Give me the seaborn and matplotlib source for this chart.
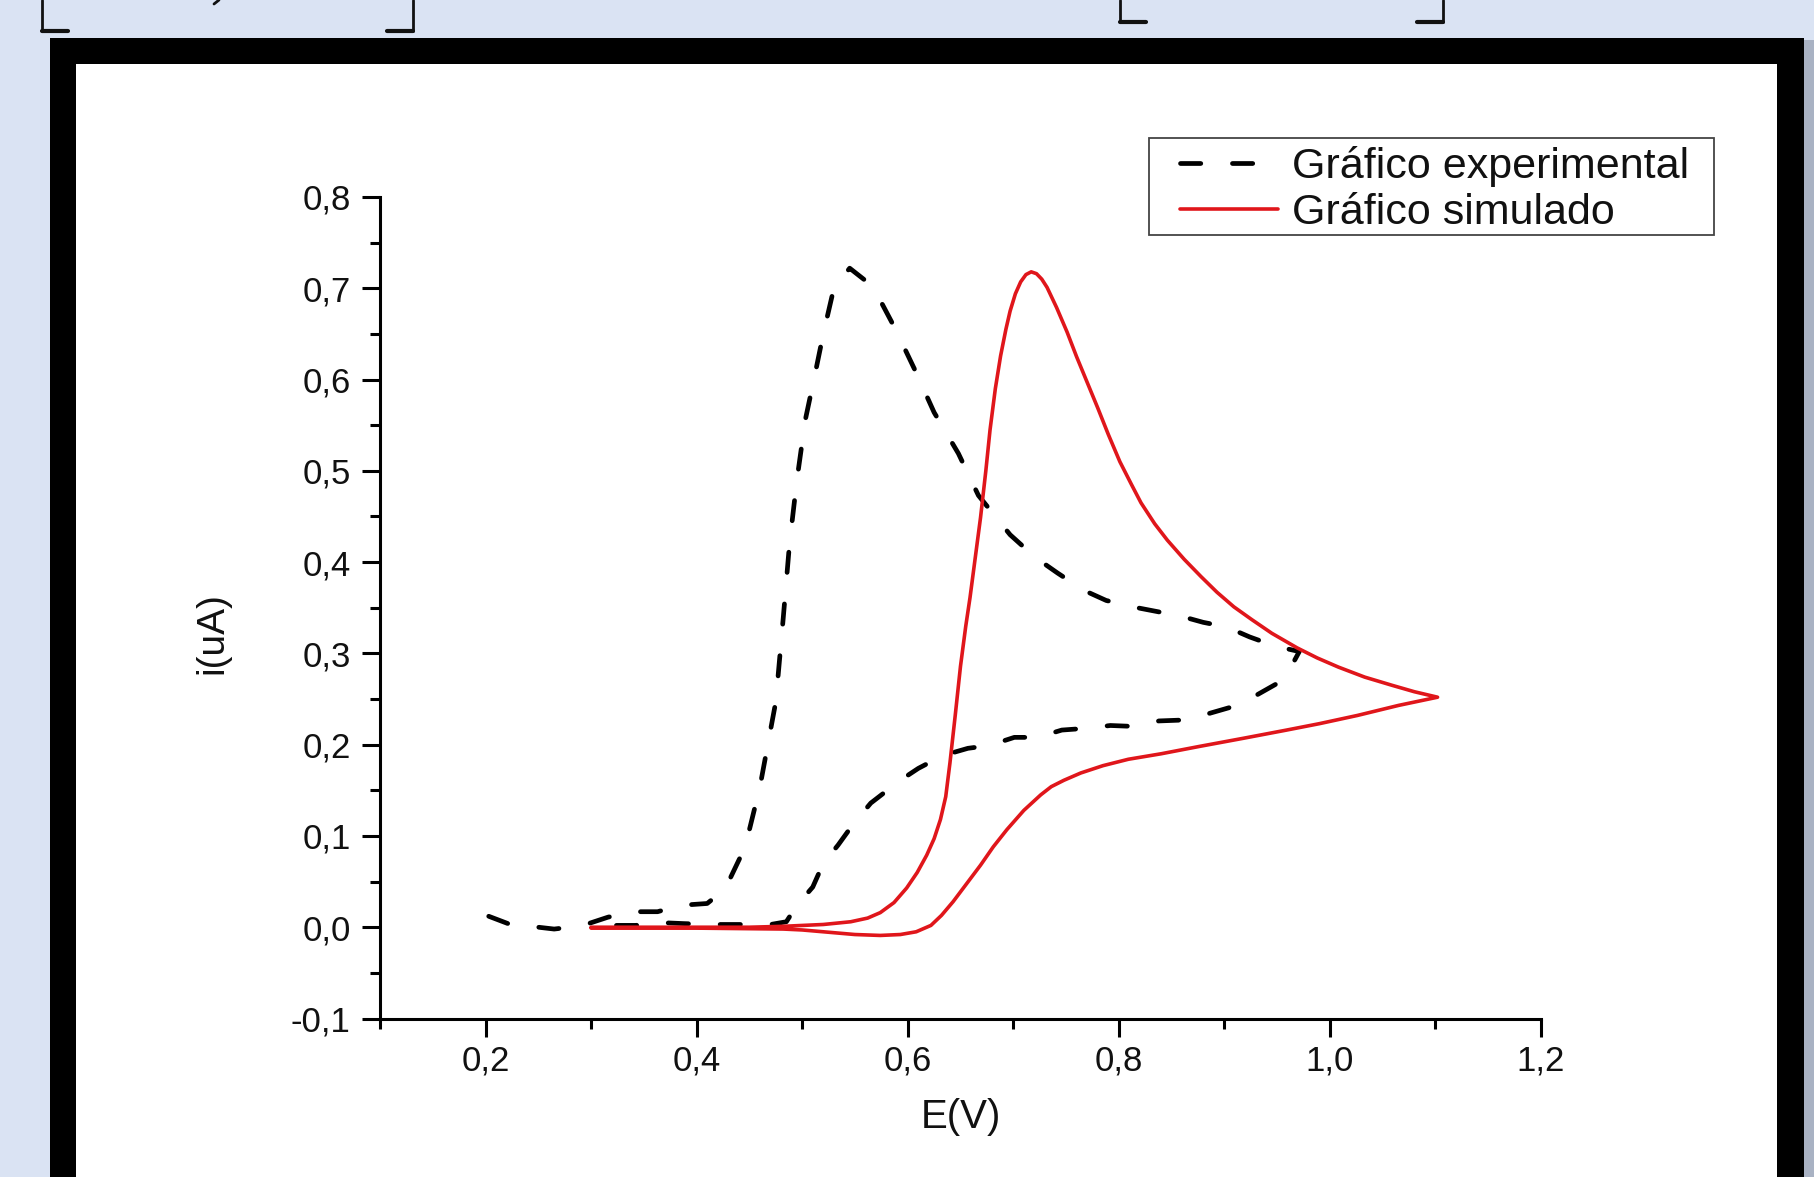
import matplotlib
matplotlib.use('Agg')
import matplotlib.pyplot as plt
import numpy as np
import pandas as pd
import seaborn as sns
from matplotlib.patches import Rectangle
from matplotlib.lines import Line2D
from matplotlib.ticker import MultipleLocator, FuncFormatter

sns.set_style('ticks')
plt.rcParams['font.family'] = ['Liberation Sans', 'DejaVu Sans']
plt.rcParams['axes.unicode_minus'] = False

# Gráfico experimental (E em V, i em uA)
exp_E = [0.203, 0.228, 0.250, 0.265, 0.280, 0.295, 0.316, 0.339, 0.363, 0.385,
         0.410, 0.427, 0.446, 0.460, 0.475, 0.482, 0.488, 0.495, 0.503, 0.512,
         0.520, 0.530, 0.545, 0.567, 0.588, 0.607, 0.625, 0.648, 0.667, 0.697,
         0.721, 0.742, 0.767, 0.788, 0.813, 0.858, 0.880, 0.902, 0.924, 0.948,
         0.971, 0.964, 0.953, 0.927, 0.906, 0.882, 0.861, 0.838, 0.814, 0.792,
         0.770, 0.746, 0.723, 0.701, 0.677, 0.657, 0.633, 0.610, 0.593, 0.565,
         0.549, 0.534, 0.520, 0.510, 0.495, 0.485, 0.470, 0.432, 0.413, 0.387,
         0.367, 0.342, 0.321]
exp_i = [0.012, 0.001, 0.000, -0.002, 0.000, 0.003, 0.011, 0.017, 0.017, 0.024,
         0.026, 0.042, 0.088, 0.154, 0.247, 0.338, 0.420, 0.490, 0.556, 0.605,
         0.650, 0.700, 0.722, 0.702, 0.656, 0.610, 0.564, 0.519, 0.473, 0.430,
         0.405, 0.388, 0.369, 0.358, 0.351, 0.341, 0.334, 0.329, 0.318, 0.308,
         0.302, 0.287, 0.269, 0.252, 0.241, 0.233, 0.227, 0.226, 0.220, 0.221,
         0.218, 0.216, 0.208, 0.208, 0.199, 0.196, 0.188, 0.174, 0.161, 0.136,
         0.114, 0.090, 0.070, 0.044, 0.024, 0.006, 0.003, 0.003, 0.003, 0.004,
         0.005, 0.002, 0.002]

# Gráfico simulado
sim_E = [0.300, 0.350, 0.400, 0.450, 0.482, 0.520, 0.546, 0.562, 0.574, 0.587,
         0.599, 0.609, 0.618, 0.625, 0.631, 0.636, 0.640, 0.645, 0.650, 0.655,
         0.659, 0.664, 0.669, 0.674, 0.678, 0.683, 0.688, 0.693, 0.697, 0.702,
         0.707, 0.712, 0.717, 0.722, 0.727, 0.732, 0.741, 0.751, 0.760, 0.770,
         0.780, 0.790, 0.801, 0.812, 0.821, 0.834, 0.846, 0.862, 0.878, 0.893,
         0.909, 0.926, 0.945, 0.969, 0.988, 1.008, 1.033, 1.059, 1.080, 1.102,
         1.065, 1.026, 0.990, 0.959, 0.918, 0.876, 0.840, 0.809, 0.785, 0.764,
         0.748, 0.736, 0.726, 0.710, 0.694, 0.681, 0.669, 0.656, 0.643, 0.632,
         0.622, 0.608, 0.593, 0.574, 0.550, 0.530, 0.500, 0.482, 0.400, 0.300]
sim_i = [0.000, 0.000, 0.000, 0.000, 0.001, 0.003, 0.006, 0.010, 0.016, 0.027,
         0.043, 0.060, 0.079, 0.097, 0.118, 0.143, 0.180, 0.232, 0.286, 0.330,
         0.361, 0.405, 0.449, 0.500, 0.545, 0.590, 0.626, 0.655, 0.675, 0.694,
         0.707, 0.715, 0.718, 0.716, 0.710, 0.701, 0.679, 0.652, 0.625, 0.597,
         0.569, 0.540, 0.510, 0.485, 0.465, 0.442, 0.424, 0.403, 0.384, 0.367,
         0.351, 0.337, 0.322, 0.306, 0.295, 0.285, 0.274, 0.265, 0.258, 0.252,
         0.243, 0.232, 0.223, 0.216, 0.207, 0.198, 0.190, 0.184, 0.177, 0.169,
         0.161, 0.154, 0.145, 0.128, 0.107, 0.088, 0.068, 0.048, 0.028, 0.013,
         0.002, -0.005, -0.008, -0.009, -0.008, -0.006, -0.003, -0.002, -0.001, -0.001]

y_ticks = [-0.1, 0.0, 0.1, 0.2, 0.3, 0.4, 0.5, 0.6, 0.7, 0.8]
x_ticks = [0.2, 0.4, 0.6, 0.8, 1.0, 1.2]

W, H = 1815, 1177
fig = plt.figure(figsize=(W / 100, H / 100), dpi=100)
fig.patch.set_facecolor('#dae3f3')

# moldura do slide
fig.add_artist(Rectangle((50 / W, -0.02), (1804 - 50) / W, (H - 38) / H + 0.02,
                         transform=fig.transFigure, facecolor='black', edgecolor='none', zorder=-3))
fig.add_artist(Rectangle((76 / W, -0.02), (1777 - 76) / W, (H - 64) / H + 0.02,
                         transform=fig.transFigure, facecolor='white', edgecolor='none', zorder=-2))
fig.add_artist(Rectangle((1804 / W, -0.02), (W - 1804) / W, (H - 40) / H + 0.02,
                         transform=fig.transFigure, facecolor='#a9b2c3', edgecolor='none', zorder=-3))

# cantos das caixas de texto no topo
def bracket(x0, x1, yb, hook):
    for xs, ys, lw in [([x0, x0], [0, yb], 2.0), ([x1, x1], [0, yb], 2.0),
                       ([x0, x0 + hook], [yb, yb], 3.0), ([x1 - hook, x1], [yb, yb], 3.0)]:
        fig.add_artist(Line2D([v / W for v in xs], [1 - v / H for v in ys],
                              transform=fig.transFigure, color='#111111', lw=lw))

bracket(42, 413, 31, 26)
bracket(1120, 1443, 22, 26)
fig.add_artist(Line2D([214 / W, 219 / W], [1 - 4 / H, 1 - 0 / H], transform=fig.transFigure,
                      color='#111111', lw=2.0))

# caixa da legenda
fig.add_artist(Rectangle((1149 / W, 1 - 235 / H), (1714 - 1149) / W, (235 - 138) / H,
                         transform=fig.transFigure, facecolor='white', edgecolor='#444444',
                         lw=1.3, zorder=-1))

ax = fig.add_axes([380 / W, 1 - 1018.5 / H, (1541 - 380) / W, (1018.5 - 197) / H])
ax.set_facecolor('none')

df_exp = pd.DataFrame({'E': exp_E, 'i': exp_i})
df_sim = pd.DataFrame({'E': sim_E, 'i': sim_i})

sns.lineplot(data=df_exp, x='E', y='i', sort=False, estimator=None, ax=ax,
             color='black', lw=3.4, label='Gráfico experimental')
sns.lineplot(data=df_sim, x='E', y='i', sort=False, estimator=None, ax=ax,
             color='#e0161b', lw=2.6, label='Gráfico simulado')
ax.lines[0].set_dashes((4.3, 6.7))
ax.lines[0].set_dash_capstyle('round')
ax.lines[1].set_solid_joinstyle('round')

ax.set_xlim(0.1, 1.2)
ax.set_ylim(-0.1, 0.8)
ax.set_xticks(x_ticks)
ax.set_yticks(y_ticks)
ax.xaxis.set_minor_locator(MultipleLocator(0.1))
ax.yaxis.set_minor_locator(MultipleLocator(0.05))
fmt = FuncFormatter(lambda v, p: ('%.1f' % v).replace('.', ','))
ax.xaxis.set_major_formatter(fmt)
ax.yaxis.set_major_formatter(fmt)

for s in ['top', 'right']:
    ax.spines[s].set_visible(False)
for s in ['left', 'bottom']:
    ax.spines[s].set_linewidth(2.2)
    ax.spines[s].set_color('black')
ax.tick_params(which='major', length=13, width=2.2, color='black', labelsize=25, labelcolor='#111111')
ax.tick_params(which='minor', length=7, width=2.2, color='black')
ax.tick_params(axis='y', which='major', pad=8)
ax.tick_params(axis='x', which='major', pad=6)

ax.set_xlabel('E(V)', fontsize=29, color='#111111')
ax.set_ylabel('i(uA)', fontsize=28, color='#111111')
ax.xaxis.set_label_coords(0.5, (1018.5 - 1117) / 821.5)
ax.xaxis.label.set_va('center')
ax.yaxis.set_label_coords((212 - 380) / 1161, 1 - (633 - 197) / 821.5)
ax.yaxis.label.set_va('center')

leg = ax.legend(loc='upper left', bbox_to_anchor=(1180 / W, 1 - 146 / H),
                bbox_transform=fig.transFigure, fontsize=31, frameon=False,
                borderpad=0, labelspacing=0.13, handlelength=2.28, handletextpad=0.33,
                borderaxespad=0)
for t in leg.get_texts():
    t.set_color('#111111')
leg.get_lines()[0].set_dashes((4.3, 6.7))
leg.get_lines()[0].set_dash_capstyle('round')

fig.savefig('out.png', dpi=100, facecolor=fig.get_facecolor())
